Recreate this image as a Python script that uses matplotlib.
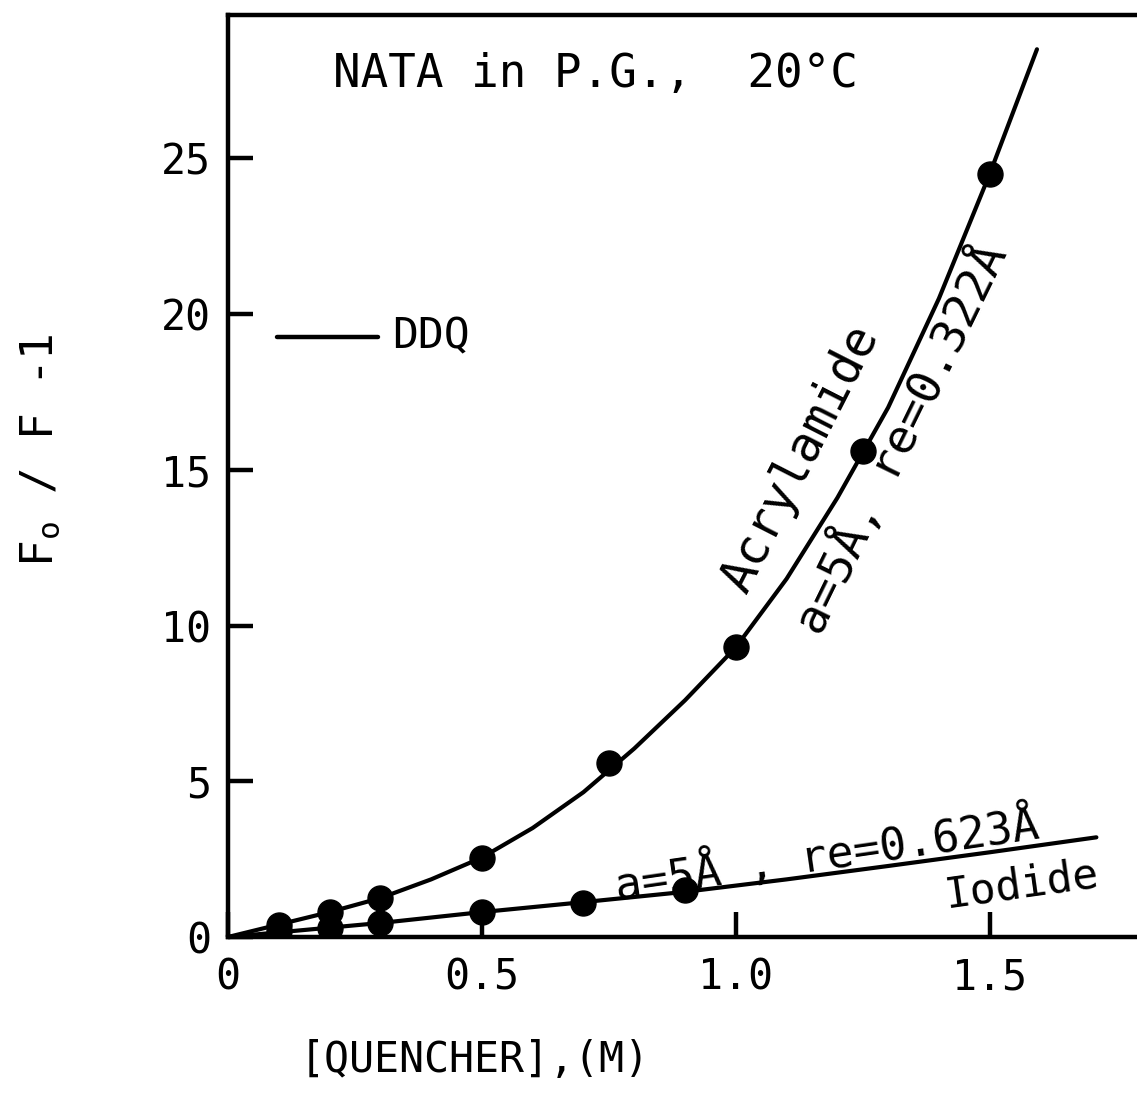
import numpy as np
import matplotlib
matplotlib.use("Agg")
import matplotlib.pyplot as plt

# Measured Stern-Volmer data, NATA in propylene glycol at 20 C
acryl_conc = [0.1, 0.2, 0.3, 0.5, 0.75, 1.0, 1.25, 1.5]
acryl_ratio = [0.4, 0.8, 1.25, 2.55, 5.6, 9.3, 15.6, 24.5]

iodide_conc = [0.1, 0.2, 0.3, 0.5, 0.7, 0.9]
iodide_ratio = [0.2, 0.3, 0.45, 0.8, 1.1, 1.5]

# Fitted curves (a = 5 A, transient term)
acryl_fit_conc = [0.0, 0.1, 0.2, 0.3, 0.4, 0.5, 0.6, 0.7, 0.8, 0.9, 1.0,
                  1.1, 1.2, 1.3, 1.4, 1.5, 1.593]
acryl_fit_ratio = [0.0, 0.4, 0.8, 1.25, 1.85, 2.55, 3.5, 4.65, 6.05, 7.6, 9.3,
                   11.5, 14.1, 17.0, 20.5, 24.5, 28.5]

iodide_fit_conc = [0.0, 0.3, 0.5, 0.7, 0.9, 1.1, 1.3, 1.5, 1.71]
iodide_fit_ratio = [0.0, 0.45, 0.8, 1.12, 1.45, 1.85, 2.28, 2.72, 3.2]

x_ticks = [0, 0.5, 1.0, 1.5]
x_tick_labels = ["0", "0.5", "1.0", "1.5"]
y_ticks = [0, 5, 10, 15, 20, 25]
y_tick_labels = ["0", "5", "10", "15", "20", "25"]

W, H = 1137, 1111
plt.rcParams["font.family"] = ["DejaVu Sans Mono", "DejaVu Sans"]
plt.rcParams["mathtext.fontset"] = "dejavusans"
fig = plt.figure(figsize=(W / 100, H / 100), dpi=100)

left, right, top, bottom = 228, 1137, 15, 937
ax = fig.add_axes([left / W, 1 - bottom / H, (right - left) / W, (bottom - top) / H])

lw = 3.0
ax.plot(acryl_fit_conc, acryl_fit_ratio, color="black", lw=lw, solid_capstyle="round")
ax.plot(iodide_fit_conc, iodide_fit_ratio, color="black", lw=lw, solid_capstyle="round")
ax.plot(acryl_conc, acryl_ratio, "o", color="black", ms=18)
ax.plot(iodide_conc, iodide_ratio, "o", color="black", ms=18)

ax.set_xlim(0, 1.79)
ax.set_ylim(0, 29.6)

for side in ["left", "bottom", "top"]:
    ax.spines[side].set_linewidth(3.2)
ax.spines["right"].set_visible(False)

ax.set_xticks(x_ticks)
ax.set_xticklabels(x_tick_labels)
ax.set_yticks(y_ticks)
ax.set_yticklabels(y_tick_labels)
ax.tick_params(direction="in", length=18, width=3.2, labelsize=30, pad=14)
ax.tick_params(axis="y", pad=12)

# Titles and annotations
ax.text(0.724, 27.7, "NATA in P.G.,  20°C", fontsize=33, ha="center", va="center")
ax.plot([0.054, 0.165], [0.651, 0.651], color="black", lw=3.2, transform=ax.transAxes,
        solid_capstyle="round")
ax.text(0.181, 0.651, "DDQ", fontsize=31, ha="left", va="center", transform=ax.transAxes)

ax.text(1.126, 15.34, "Acrylamide", fontsize=35, rotation=63, ha="center", va="center",
        rotation_mode="anchor")
ax.text(1.325, 16.0, "a=5Å, re=0.322Å", fontsize=34, rotation=64, ha="center",
        va="center", rotation_mode="anchor")
ax.text(1.18, 2.64, "a=5Å , re=0.623Å", fontsize=32, rotation=8.3, ha="center",
        va="center", rotation_mode="anchor")
ax.text(1.563, 1.67, "Iodide", fontsize=31, rotation=8, ha="center", va="center",
        rotation_mode="anchor")

fig.text(40 / W, 1 - 450 / H, r"F$_\mathregular{o}$ / F -1", fontsize=32,
         rotation=90, ha="center", va="center")
fig.text(475 / W, 1 - 1060 / H, "[QUENCHER],(M)", fontsize=30, ha="center", va="center")

fig.savefig("out.png", dpi=100)
